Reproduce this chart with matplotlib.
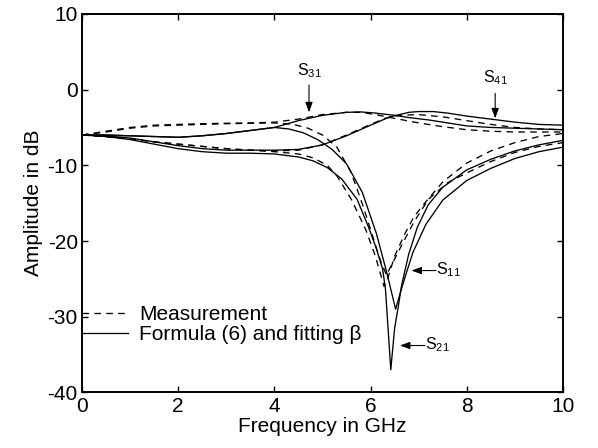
import matplotlib
matplotlib.use("Agg")
import matplotlib.pyplot as plt
from matplotlib.lines import Line2D

plt.rcParams['font.family'] = ['Liberation Sans', 'DejaVu Sans']
plt.rcParams['mathtext.fontset'] = 'custom'
plt.rcParams['mathtext.rm'] = 'Liberation Sans'
plt.rcParams['mathtext.it'] = 'Liberation Sans'
plt.rcParams['axes.unicode_minus'] = False

# ---------------- data ----------------
# Formula (6) and fitting beta  (solid)
f_s31 = [0, 0.5, 1, 1.5, 2, 2.5, 3, 3.5, 4, 4.5, 5.0, 5.5, 5.8, 6.1, 6.5, 6.8, 7.2, 7.6, 8.0, 8.5, 9.0, 9.5, 10]
s31_fit = [-6.0, -6.0, -6.1, -6.2, -6.3, -6.1, -5.8, -5.4, -5.0, -4.1, -3.4, -3.0, -2.95, -3.1, -3.4, -3.7, -4.0, -4.4, -4.8, -5.0, -5.1, -5.2, -5.3]

f_s41 = [0, 0.5, 1, 1.5, 2, 2.5, 3, 3.5, 4, 4.5, 5.0, 5.5, 6.0, 6.4, 6.8, 7.0, 7.3, 7.6, 8.0, 8.5, 9.0, 9.5, 10]
s41_fit = [-6.0, -6.1, -6.4, -6.9, -7.4, -7.8, -8.0, -8.0, -8.0, -7.9, -7.3, -6.1, -4.7, -3.6, -3.0, -2.9, -2.9, -3.1, -3.5, -3.9, -4.3, -4.6, -4.7]

f_s21 = [0, 0.5, 1, 1.5, 2, 2.5, 3, 3.5, 4, 4.5, 4.8, 5.1, 5.4, 5.72, 5.96, 6.12, 6.25, 6.31, 6.42, 6.5, 6.58, 6.64, 6.79, 6.97, 7.2, 7.5, 8.0, 8.5, 9.0, 9.5, 10]
s21_fit = [-6.0, -6.2, -6.6, -7.2, -7.8, -8.2, -8.4, -8.4, -8.5, -8.9, -9.4, -10.3, -11.8, -14.5, -18.2, -21.0, -23.7, -26.4, -37.0, -31.5, -28.5, -26.0, -21.8, -18.2, -15.2, -12.9, -10.6, -9.2, -8.1, -7.3, -6.7]

f_s11 = [0, 0.5, 1, 1.5, 2, 2.5, 3, 3.5, 4, 4.3, 4.6, 4.9, 5.2, 5.5, 5.83, 6.12, 6.33, 6.52, 6.62, 6.73, 6.88, 7.15, 7.5, 8.0, 8.5, 9.0, 9.5, 10]
s11_fit = [-6.0, -6.0, -6.1, -6.2, -6.3, -6.1, -5.8, -5.4, -5.0, -5.2, -5.7, -6.6, -7.9, -9.8, -13.6, -19.0, -24.0, -29.0, -26.8, -24.5, -21.5, -17.8, -14.6, -12.0, -10.4, -9.1, -8.2, -7.6]

# Measurement (dashed)
m_s31 = [0, 0.5, 1, 1.5, 2, 2.5, 3, 3.5, 4, 4.5, 5.0, 5.5, 5.8, 6.1, 6.5, 7.0, 7.5, 8.0, 8.5, 9.0, 10]
s31_meas = [-6.0, -5.5, -5.0, -4.7, -4.6, -4.5, -4.45, -4.4, -4.3, -3.9, -3.3, -3.0, -3.0, -3.3, -3.8, -4.4, -4.9, -5.3, -5.5, -5.6, -5.6]

m_s41 = [0, 0.5, 1, 1.5, 2, 2.5, 3, 3.5, 4, 4.5, 5.0, 5.5, 6.0, 6.3, 6.6, 7.0, 7.5, 8.0, 8.5, 9.0, 9.5, 10]
s41_meas = [-6.0, -6.2, -6.5, -6.9, -7.2, -7.5, -7.8, -8.0, -8.1, -8.0, -7.3, -6.0, -4.6, -3.8, -3.4, -3.3, -3.6, -4.1, -4.6, -5.0, -5.2, -5.3]

m_s21 = [0, 0.5, 1, 1.5, 2, 2.5, 3, 3.5, 4, 4.5, 4.8, 5.1, 5.3, 5.6, 5.9, 6.1, 6.28, 6.34, 6.5, 6.7, 6.9, 7.15, 7.5, 8.0, 8.5, 9.0, 9.5, 10]
s21_meas = [-6.0, -6.2, -6.5, -6.9, -7.2, -7.5, -7.8, -8.0, -8.2, -8.5, -9.0, -10.0, -11.4, -14.5, -18.5, -22.0, -26.0, -25.3, -22.0, -19.2, -16.8, -14.8, -12.2, -9.7, -8.1, -7.0, -6.2, -5.8]

m_s11 = [0, 0.5, 1, 1.5, 2, 2.5, 3, 3.5, 4, 4.4, 4.7, 5.0, 5.3, 5.6, 5.85, 6.05, 6.2, 6.33, 6.45, 6.65, 6.9, 7.2, 7.6, 8.0, 8.5, 9.0, 9.5, 10]
s11_meas = [-6.0, -5.6, -5.1, -4.8, -4.7, -4.6, -4.5, -4.45, -4.4, -4.6, -5.1, -6.0, -7.6, -11.0, -15.5, -19.5, -22.5, -24.5, -23.0, -20.5, -17.5, -14.5, -12.3, -11.0, -9.5, -8.3, -7.5, -7.0]

legend_labels = ['Measurement', u'Formula (6) and fitting \u03b2']
x_ticks = [0, 2, 4, 6, 8, 10]
y_ticks = [-40, -30, -20, -10, 0, 10]

# ---------------- figure ----------------
fig = plt.figure(figsize=(5.98, 4.48), dpi=100)
ax = fig.add_axes([0.137, 0.124, 0.8045, 0.845])

lw = 0.95
dash = (0, (5, 4))
for fx, fy in [(f_s31, s31_fit), (f_s41, s41_fit), (f_s21, s21_fit), (f_s11, s11_fit)]:
    ax.plot(fx, fy, color='black', lw=lw, ls='-')
for mx, my in [(m_s31, s31_meas), (m_s41, s41_meas), (m_s21, s21_meas), (m_s11, s11_meas)]:
    ax.plot(mx, my, color='black', lw=lw, ls=dash)

ax.set_xlim(0, 10)
ax.set_ylim(-40, 10)
ax.set_xticks(x_ticks)
ax.set_yticks(y_ticks)
ax.tick_params(direction='in', length=4, width=1, top=True, right=True,
               labelsize=15, pad=3)
for sp in ax.spines.values():
    sp.set_linewidth(1.4)

ax.set_xlabel('Frequency in GHz', fontsize=15, labelpad=1)
ax.set_ylabel('Amplitude in dB', fontsize=15, labelpad=3)

handles = [Line2D([], [], color='black', lw=lw, ls=dash),
           Line2D([], [], color='black', lw=lw, ls='-')]
ax.legend(handles, legend_labels, loc='lower left', bbox_to_anchor=(0.0, 0.128),
          frameon=False, borderpad=0, borderaxespad=0, handlelength=2.2,
          handletextpad=0.55, labelspacing=0.05, fontsize=15)

ap = dict(arrowstyle='-|>,head_length=0.6,head_width=0.22', color='black',
          lw=0.8, mutation_scale=10, shrinkA=0, shrinkB=0)
ax.annotate('', xy=(4.72, -3.0), xytext=(4.72, 0.6), arrowprops=ap)
ax.text(4.47, 1.9, r'$\mathrm{S}_{31}$', fontsize=11.5, ha='left', va='baseline')
ax.annotate('', xy=(8.59, -3.8), xytext=(8.59, -0.5), arrowprops=ap)
ax.text(8.34, 0.9, r'$\mathrm{S}_{41}$', fontsize=11.5, ha='left', va='baseline')
ax.annotate('', xy=(6.85, -23.9), xytext=(7.36, -23.9), arrowprops=ap)
ax.text(7.36, -24.4, r'$\mathrm{S}_{11}$', fontsize=11.5, ha='left', va='baseline')
ax.annotate('', xy=(6.61, -33.8), xytext=(7.13, -33.8), arrowprops=ap)
ax.text(7.13, -34.3, r'$\mathrm{S}_{21}$', fontsize=11.5, ha='left', va='baseline')

fig.savefig('out.png', dpi=100)
